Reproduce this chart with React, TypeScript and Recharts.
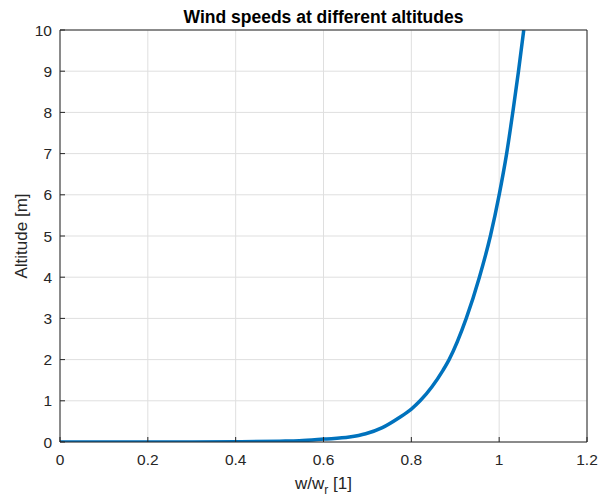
import { CartesianGrid, Label, Line, LineChart, XAxis, YAxis } from 'recharts';

const SPEED_RATIO = [0, 0.1, 0.2, 0.3, 0.4, 0.5, 0.545, 0.6, 0.659, 0.696, 0.734, 0.772, 0.8, 0.82, 0.872, 0.886, 0.925, 0.955, 0.98, 1.0, 1.017, 1.031, 1.044, 1.056];
const ALTITUDE = [0, 0, 0, 0, 0.005, 0.02, 0.03, 0.07, 0.12, 0.2, 0.35, 0.59, 0.8, 1, 1.74, 2, 3, 4, 5, 6, 7, 8, 9, 10];

const X_TICKS = [0, 0.2, 0.4, 0.6, 0.8, 1, 1.2];
const Y_TICKS = [0, 1, 2, 3, 4, 5, 6, 7, 8, 9, 10];

const FONT = '"Liberation Sans", Arial, Helvetica, sans-serif';
const INK = '#262626';

const data = SPEED_RATIO.map((x, i) => ({ x, altitude: ALTITUDE[i] }));

const tickStyle = { fill: INK, fontSize: 15.5, fontFamily: FONT };

function TitleLabel(props: any) {
  const { x, y, width } = props.viewBox;
  return (
    <text x={x + width / 2} y={y - 6} textAnchor="middle" fill="#000" fontFamily={FONT} fontSize={17.5} fontWeight="bold">
      Wind speeds at different altitudes
    </text>
  );
}

function XTitle(props: any) {
  const { x, y, width } = props.viewBox;
  return (
    <text x={x + width / 2} y={y + 47} textAnchor="middle" fill={INK} fontFamily={FONT} fontSize={17}>
      w/w
      <tspan fontSize={12} dy={5}>r</tspan>
      <tspan dy={-5}> [1]</tspan>
    </text>
  );
}

function YTitle(props: any) {
  const { y, height } = props.viewBox;
  const cx = 19;
  const cy = y + height / 2;
  return (
    <text x={cx} y={cy} transform={`rotate(-90, ${cx}, ${cy})`} textAnchor="middle" fill={INK} fontFamily={FONT} fontSize={17}>
      Altitude [m]
    </text>
  );
}

export default function App() {
  return (
    <div style={{ padding: '8px 0 0 8px' }}>
      <style>{'html, body { margin: 0; overflow: hidden; } .recharts-surface { overflow: visible; }'}</style>
      <LineChart width={591} height={491} data={data} margin={{ top: 21, right: 11, bottom: 0, left: 0 }}>
        <CartesianGrid stroke="#dfdfdf" strokeWidth={1} />
        <XAxis
          dataKey="x"
          type="number"
          domain={[0, 1.2]}
          ticks={X_TICKS}
          height={57}
          tick={tickStyle}
          tickSize={-5}
          tickMargin={17}
          axisLine={{ stroke: INK }}
          tickLine={{ stroke: INK }}
          allowDataOverflow
        >
          <Label content={XTitle} />
        </XAxis>
        <XAxis
          xAxisId="top"
          orientation="top"
          dataKey="x"
          type="number"
          domain={[0, 1.2]}
          ticks={X_TICKS}
          height={1}
          tick={false}
          tickSize={-5}
          axisLine={{ stroke: INK }}
          tickLine={{ stroke: INK }}
        >
          <Label content={TitleLabel} />
        </XAxis>
        <YAxis
          type="number"
          domain={[0, 10]}
          ticks={Y_TICKS}
          width={52}
          tick={tickStyle}
          tickSize={-5}
          tickMargin={13}
          axisLine={{ stroke: INK }}
          tickLine={{ stroke: INK }}
          allowDataOverflow
        >
          <Label content={YTitle} />
        </YAxis>
        <YAxis
          yAxisId="right"
          orientation="right"
          type="number"
          domain={[0, 10]}
          ticks={Y_TICKS}
          width={1}
          tick={false}
          tickSize={-5}
          axisLine={{ stroke: INK }}
          tickLine={{ stroke: INK }}
        />
        <Line
          type="monotone"
          dataKey="altitude"
          stroke="#0072BD"
          strokeWidth={3.5}
          dot={false}
          activeDot={false}
          isAnimationActive={false}
        />
      </LineChart>
    </div>
  );
}
